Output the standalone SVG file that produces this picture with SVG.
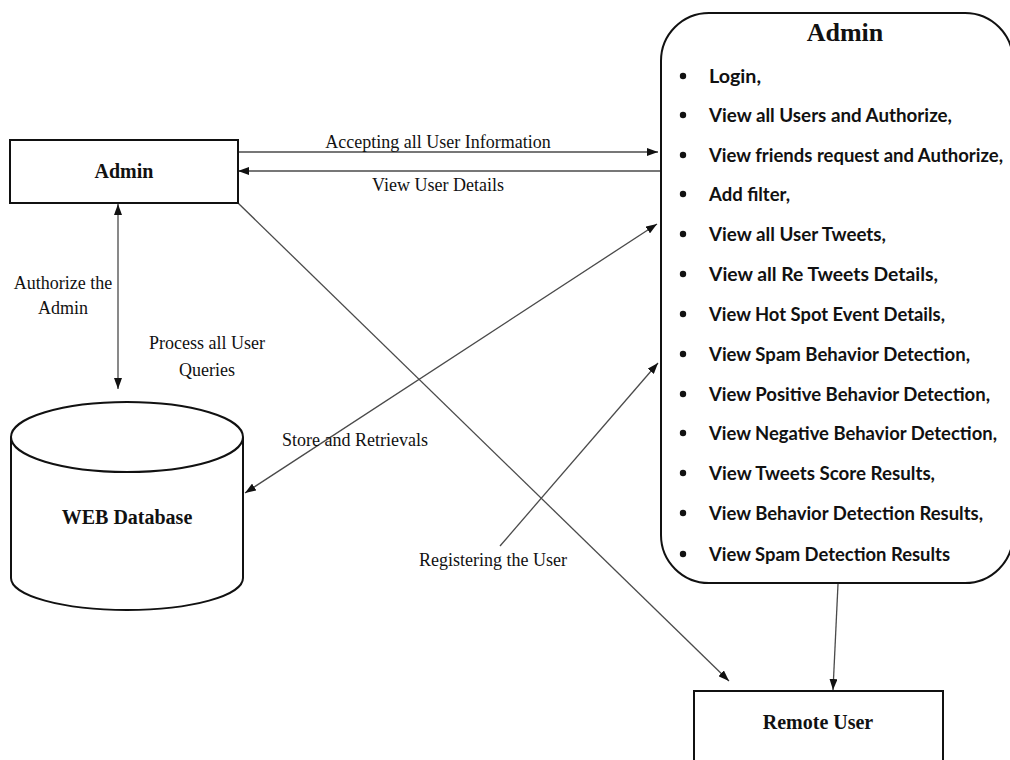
<svg xmlns="http://www.w3.org/2000/svg" width="1010" height="760" viewBox="0 0 1010 760">
<defs>
<style>
.box{fill:#fff;stroke:#111;stroke-width:2}
.con{fill:none;stroke:#4a4a4a;stroke-width:1.3}
.serif{font-family:"Liberation Serif","Times New Roman",serif;fill:#111}
.lbl{font-size:18px;text-anchor:middle}
.bold{font-weight:bold;text-anchor:middle}
.item{font-family:Lato,"Open Sans",sans-serif;font-weight:bold;font-size:19px;fill:#111}
.dot{fill:#111}
</style>
<marker id="ah" viewBox="0 0 11 8" refX="11" refY="4" markerWidth="11" markerHeight="8" markerUnits="userSpaceOnUse" orient="auto-start-reverse">
<path d="M0,0 L11,4 L0,8 z" fill="#111"/>
</marker>
</defs>
<rect width="1010" height="760" fill="#fff"/>

<g id="connectors">
<line class="con" x1="238" y1="152" x2="658" y2="152" marker-end="url(#ah)"/>
<line class="con" x1="661" y1="171" x2="238" y2="171" marker-end="url(#ah)"/>
<line class="con" x1="118" y1="204" x2="118" y2="389" marker-start="url(#ah)" marker-end="url(#ah)"/>
<line class="con" x1="657" y1="224" x2="245" y2="493" marker-start="url(#ah)" marker-end="url(#ah)"/>
<line class="con" x1="500" y1="546" x2="658" y2="363" marker-end="url(#ah)"/>
<line class="con" x1="238" y1="203" x2="729" y2="681" marker-end="url(#ah)"/>
<line class="con" x1="838" y1="584" x2="833" y2="690" marker-end="url(#ah)"/>
<text class="serif lbl" x="438" y="148">Accepting all User Information</text>
<text class="serif lbl" x="438" y="191">View User Details</text>
<text class="serif lbl" x="63" y="289">Authorize the</text>
<text class="serif lbl" x="63" y="314">Admin</text>
<text class="serif lbl" x="207" y="349">Process all User</text>
<text class="serif lbl" x="207" y="376">Queries</text>
<text class="serif lbl" x="355" y="446">Store and Retrievals</text>
<text class="serif lbl" x="493" y="566">Registering the User</text>
</g>

<g id="admin-box">
<rect class="box" x="10" y="140" width="228" height="63"/>
<text class="serif bold" x="124" y="178" font-size="20">Admin</text>
</g>

<g id="web-database">
<path class="box" d="M11,437 L11,578 A116,32 0 0 0 243,578 L243,437"/>
<ellipse class="box" cx="127" cy="437" rx="116" ry="35"/>
<text class="serif bold" x="127" y="524" font-size="20">WEB Database</text>
</g>

<g id="admin-panel">
<rect class="box" x="661" y="13" width="352" height="570" rx="48" ry="48"/>
<text class="serif bold" x="845" y="41" font-size="26">Admin</text>
<g class="dot">
<circle cx="683" cy="76" r="3.2"/>
<circle cx="683" cy="115" r="3.2"/>
<circle cx="683" cy="155" r="3.2"/>
<circle cx="683" cy="194" r="3.2"/>
<circle cx="683" cy="234" r="3.2"/>
<circle cx="683" cy="274" r="3.2"/>
<circle cx="683" cy="314" r="3.2"/>
<circle cx="683" cy="354" r="3.2"/>
<circle cx="683" cy="394" r="3.2"/>
<circle cx="683" cy="433" r="3.2"/>
<circle cx="683" cy="473" r="3.2"/>
<circle cx="683" cy="513" r="3.2"/>
<circle cx="683" cy="554" r="3.2"/>
</g>
<text class="item" x="709" y="83" textLength="52" lengthAdjust="spacingAndGlyphs">Login,</text>
<text class="item" x="709" y="122" textLength="243" lengthAdjust="spacingAndGlyphs">View all Users and Authorize,</text>
<text class="item" x="709" y="162" textLength="294" lengthAdjust="spacingAndGlyphs">View friends request and Authorize,</text>
<text class="item" x="709" y="201" textLength="81" lengthAdjust="spacingAndGlyphs">Add filter,</text>
<text class="item" x="709" y="241" textLength="177" lengthAdjust="spacingAndGlyphs">View all User Tweets,</text>
<text class="item" x="709" y="281" textLength="229" lengthAdjust="spacingAndGlyphs">View all Re Tweets Details,</text>
<text class="item" x="709" y="321" textLength="236" lengthAdjust="spacingAndGlyphs">View Hot Spot Event Details,</text>
<text class="item" x="709" y="361" textLength="261" lengthAdjust="spacingAndGlyphs">View Spam Behavior Detection,</text>
<text class="item" x="709" y="401" textLength="281" lengthAdjust="spacingAndGlyphs">View Positive Behavior Detection,</text>
<text class="item" x="709" y="440" textLength="288" lengthAdjust="spacingAndGlyphs">View Negative Behavior Detection,</text>
<text class="item" x="709" y="480" textLength="226" lengthAdjust="spacingAndGlyphs">View Tweets Score Results,</text>
<text class="item" x="709" y="520" textLength="274" lengthAdjust="spacingAndGlyphs">View Behavior Detection Results,</text>
<text class="item" x="709" y="561" textLength="241" lengthAdjust="spacingAndGlyphs">View Spam Detection Results</text>
</g>

<g id="remote-user">
<rect class="box" x="694" y="691" width="249" height="90"/>
<text class="serif bold" x="818" y="729" font-size="20">Remote User</text>
</g>
</svg>
